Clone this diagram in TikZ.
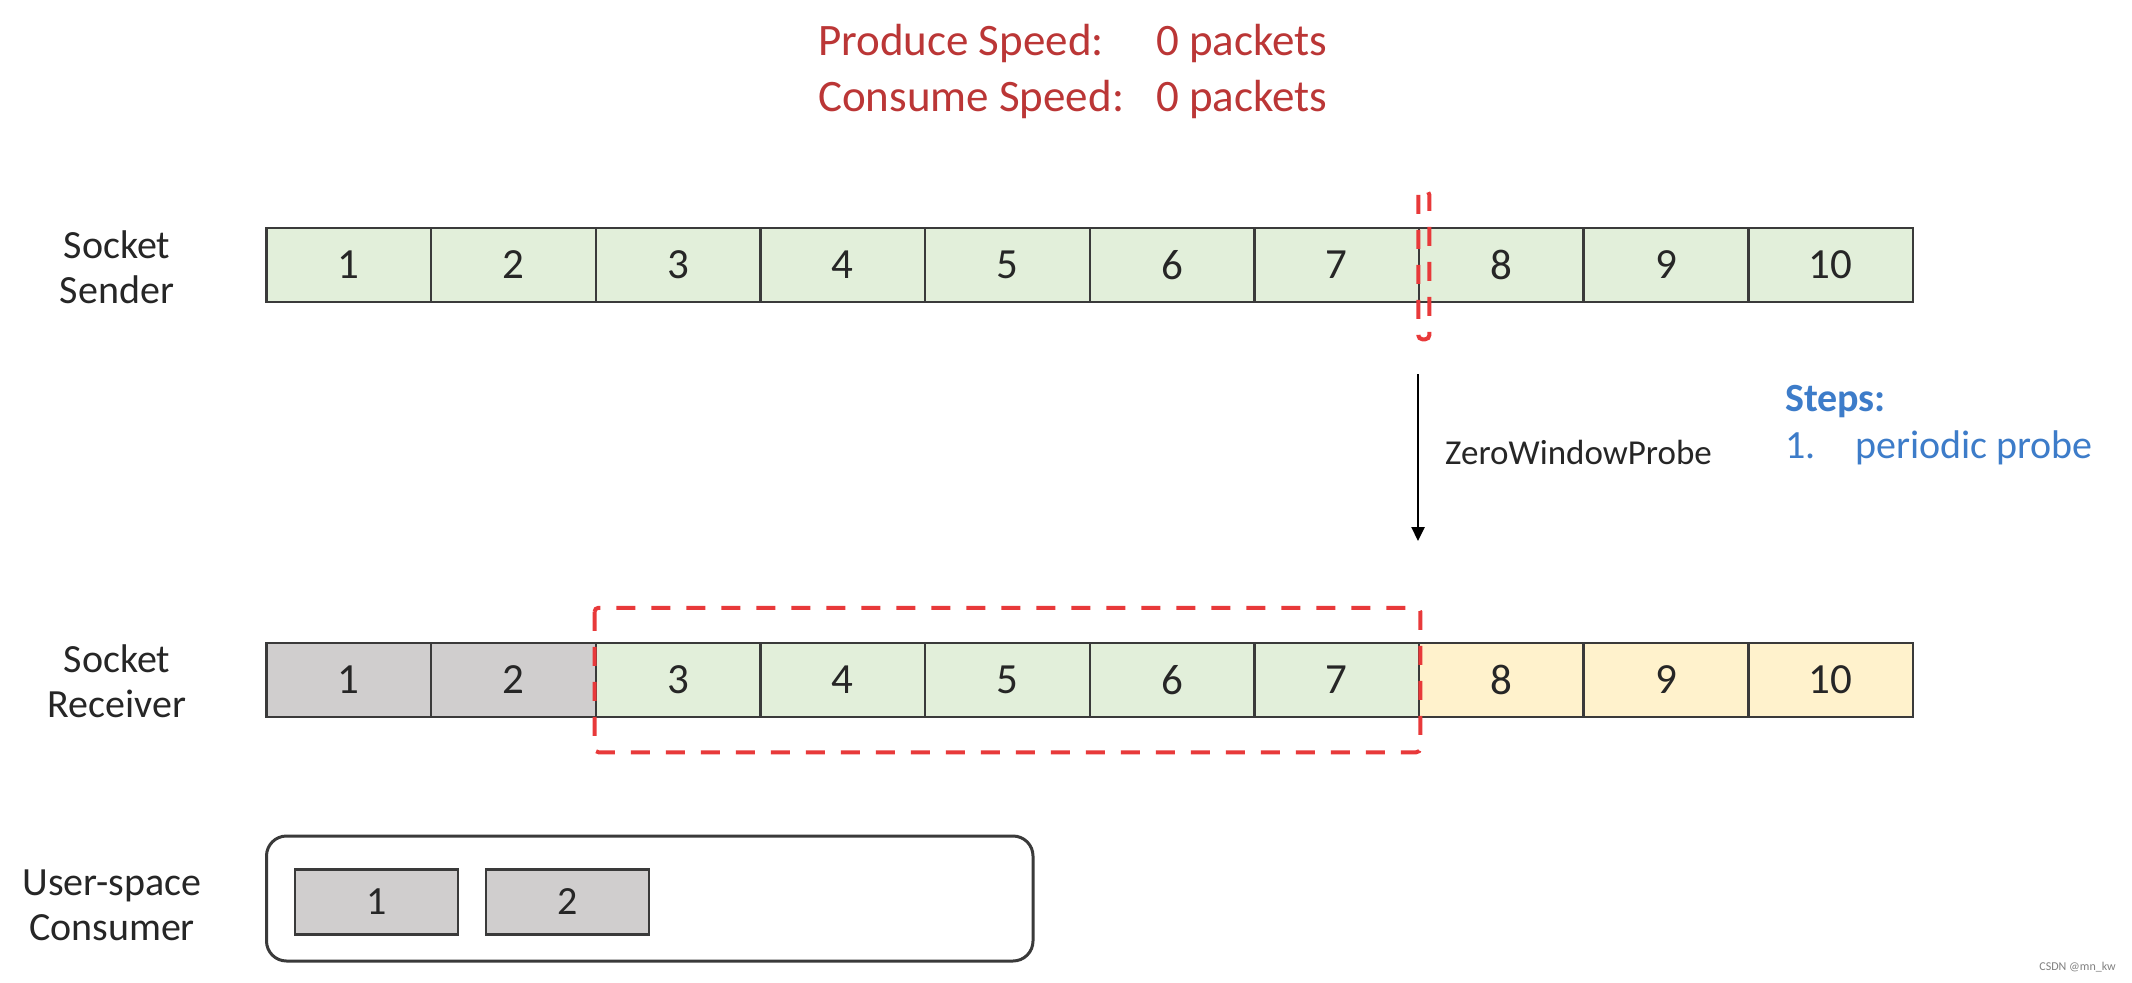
\documentclass[tikz,border=0pt]{standalone}
\usepackage{fontspec}
\setmainfont{Carlito}
\usetikzlibrary{arrows.meta}
\definecolor{cgreen}{HTML}{E2EFDA}
\definecolor{cgray}{HTML}{D0CECE}
\definecolor{cyellow}{HTML}{FFF2CC}
\definecolor{cborder}{HTML}{3A3A3A}
\definecolor{ctext}{HTML}{262626}
\definecolor{tred}{HTML}{BB3636}
\definecolor{dred}{HTML}{E8393A}
\definecolor{tblue}{HTML}{3D7CC9}
\tikzset{
  cell/.style={draw=cborder, line width=2.5pt, minimum width=164.65pt, minimum height=74pt,
    inner sep=0pt, text=ctext, font=\fontsize{43}{46}\selectfont},
  ubox/.style={draw=cborder, line width=2.5pt, fill=cgray, minimum width=163pt, minimum height=65pt,
    inner sep=0pt, text=ctext, font=\fontsize{40}{46}\selectfont},
  lab/.style={align=center, text=ctext, font=\fontsize{40}{45}\selectfont, inner sep=0pt},
  title/.style={text=tred, font=\fontsize{45}{50}\selectfont, inner sep=0pt, anchor=base west},
  rdash/.style={draw=dred, line width=4pt, dash pattern=on 19pt off 16pt, rounded corners=4pt},
}
\begin{document}
\begin{tikzpicture}[x=1pt,y=-1pt]
\useasboundingbox[fill=white] (0,0) rectangle (2132,982);
% title
\node[title] (t1) at (818,56) {Produce Speed:};
\node[title] (t1v) at (1156,56) {0 packets};
\node[title] (t2) at (818,111) {Consume Speed:};
\node[title] (t2v) at (1156,111) {0 packets};
% sender row
\foreach \i in {1,...,10}
  \node[cell, fill=cgreen] (s\i) at ({266.5+164.65*(\i-0.5)},265) {\i};
% receiver row
\foreach \i/\c in {1/cgray,2/cgray,3/cgreen,4/cgreen,5/cgreen,6/cgreen,7/cgreen,8/cyellow,9/cyellow,10/cyellow}
  \node[cell, fill=\c] (r\i) at ({266.5+164.65*(\i-0.5)},680) {\i};
% labels
\node[lab] (lsend) at (117,267) {Socket\\Sender};
\node[lab] (lrecv) at (117,681) {Socket\\Receiver};
\node[lab] (luser) at (112,905) {User-space\\Consumer};
% red dashed markers
\draw[rdash] ([xshift=0.5pt,yshift=36pt]s8.north west) rectangle ([xshift=11.5pt,yshift=-36pt]s8.south west);
\draw[rdash] ([yshift=34pt]r3.north west) rectangle ([yshift=-34pt]r7.south east);
% arrow
\coordinate (pa) at (1418,374);
\coordinate (pb) at (1418,541);
\draw[draw=black, line width=2.5pt, -{Triangle[length=14pt,width=13pt]}] (pa) -- (pb);
\node[anchor=west, text=ctext, font=\fontsize{35}{40}\selectfont, inner sep=0pt] (zwp) at (1445,452) {ZeroWindowProbe};
% steps
\node[anchor=base west, text=tblue, font=\fontsize{40}{45}\bfseries, inner sep=0pt] (steps) at (1785,411) {Steps:};
\node[anchor=base west, text=tblue, font=\fontsize{40}{45}\selectfont, inner sep=0pt] (s1n) at (1785,458) {1.};
\node[anchor=base west, text=tblue, font=\fontsize{40}{45}\selectfont, inner sep=0pt] (s1t) at (1855,458) {periodic probe};
% user-space
\draw[draw=cborder, line width=3pt, rounded corners=20pt] (266.5,836) rectangle (1033,961);
\node[ubox] (u1) at (376.5,902) {1};
\node[ubox] (u2) at (567.5,902) {2};
% watermark
\node[anchor=east, text=gray, font=\fontsize{12}{14}\selectfont, inner sep=0pt] (wm) at (2116,967) {CSDN @mn\_kw};
\end{tikzpicture}
\end{document}
